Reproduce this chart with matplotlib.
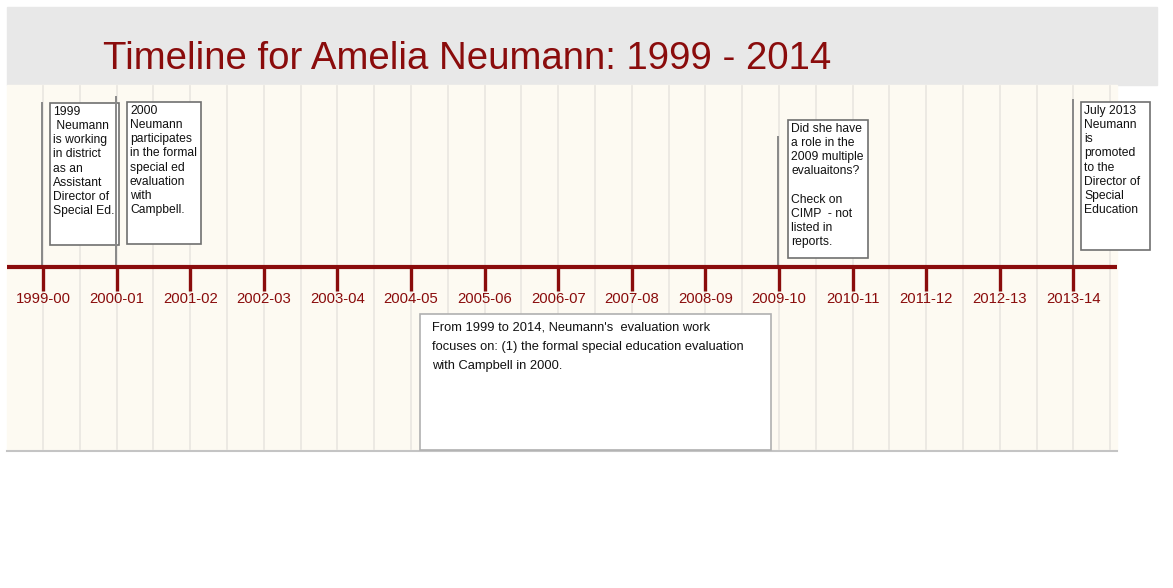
import matplotlib.pyplot as plt
from matplotlib.patches import Rectangle

# timeline data
school_years = ['1999-00', '2000-01', '2001-02', '2002-03', '2003-04', '2004-05',
                '2005-06', '2006-07', '2007-08', '2008-09', '2009-10', '2010-11',
                '2011-12', '2012-13', '2013-14']
year_start = [1999, 2000, 2001, 2002, 2003, 2004, 2005, 2006, 2007, 2008,
              2009, 2010, 2011, 2012, 2013]

event_years = [1999, 2000, 2009, 2013]
event_texts = [
    '1999\n Neumann\nis working\nin district\nas an\nAssistant\nDirector of\nSpecial Ed.',
    '2000\nNeumann\nparticipates\nin the formal\nspecial ed\nevaluation\nwith\nCampbell.',
    'Did she have\na role in the\n2009 multiple\nevaluaitons?\n\nCheck on\nCIMP  - not\nlisted in\nreports.',
    'July 2013\nNeumann\nis\npromoted\nto the\nDirector of\nSpecial\nEducation',
]
summary_text = ("From 1999 to 2014, Neumann's  evaluation work\n"
                "focuses on: (1) the formal special education evaluation\n"
                "with Campbell in 2000.")
title = 'Timeline for Amelia Neumann: 1999 - 2014'

W, H = 1173, 588
RED = '#8a0c0c'
plt.rcParams['font.family'] = ['Liberation Sans', 'DejaVu Sans']

fig = plt.figure(figsize=(W / 100, H / 100), dpi=100)
ax = fig.add_axes([0, 0, 1, 1])
px_per_year = 73.6
x0 = 1999 - 43 / px_per_year
ax.set_xlim(x0, x0 + W / px_per_year)
ax.set_ylim(H, 0)
ax.axis('off')


def px(x):
    return x0 + x / px_per_year


# backgrounds
ax.add_patch(Rectangle((px(7), 7), px(1157) - px(7), 78, color='#e8e8e8', zorder=0))
ax.add_patch(Rectangle((px(7), 85), px(1117) - px(7), 365, color='#fdfaf2', zorder=0))
ax.plot([px(7), px(1117)], [450.5, 450.5], color='#c4c4c4', lw=1.5, zorder=1)

# half-year grid lines
g = 1999.0
while g < px(1117):
    ax.plot([g, g], [86, 449], color='#ebe8e2', lw=1.3, zorder=1)
    g += 0.5

ax.text(px(103), 59, title, color=RED, fontsize=27.6, va='center', ha='left', zorder=5)

# axis line, ticks and labels
ax.plot([px(7), px(1117)], [267, 267], color=RED, lw=3, zorder=4, solid_capstyle='butt')
for yr, lab in zip(year_start, school_years):
    ax.plot([yr, yr], [267, 291], color=RED, lw=2.4, zorder=4, solid_capstyle='butt')
    ax.text(yr, 299, lab, color=RED, fontsize=10.7, ha='center', va='center', zorder=5)

# event markers and boxes
line_tops = [103, 97, 137, 100]
boxes = [(50, 103, 119, 245), (127, 102, 201, 244), (788, 120, 868, 258), (1081, 102, 1150, 250)]
for yr, top, (bx0, by0, bx1, by1), txt in zip(event_years, line_tops, boxes, event_texts):
    ax.plot([yr - 0.01, yr - 0.01], [top, 267], color='#888888', lw=1.4, zorder=3)
    ax.add_patch(Rectangle((px(bx0), by0), px(bx1) - px(bx0), by1 - by0,
                           facecolor='white', edgecolor='#707070', lw=1.2, zorder=2))
    ax.text(px(bx0 + 3), by0 + 3, txt, fontsize=8.7, ha='left', va='top',
            linespacing=1.24, color='#111111', zorder=5)

ax.add_patch(Rectangle((px(420), 314), px(771) - px(420), 136,
                       facecolor='white', edgecolor='#b0b0b0', lw=1.2, zorder=2))
ax.text(px(432), 322, summary_text, fontsize=9.3, ha='left', va='top',
        linespacing=1.75, color='#111111', zorder=5)

fig.savefig('out.png', dpi=100)
